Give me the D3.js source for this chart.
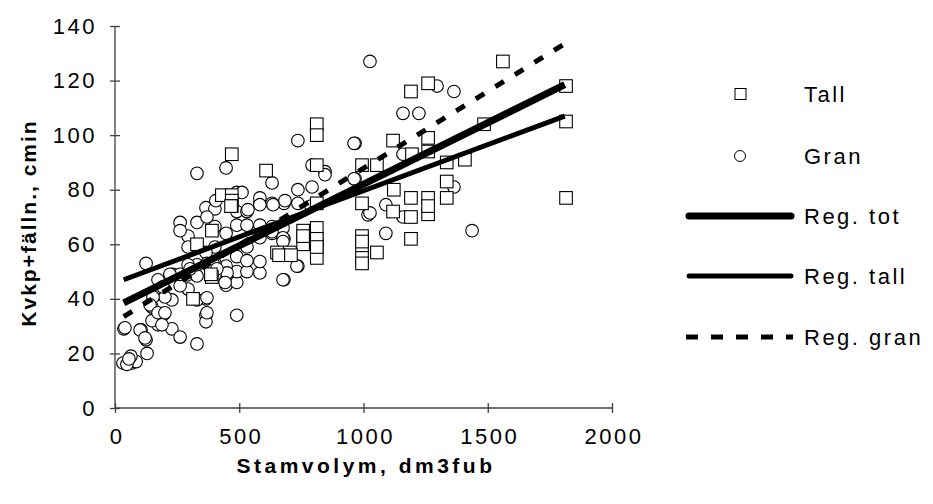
<!DOCTYPE html>
<meta charset="utf-8">
<body style="margin:0;background:#fff">
<style>
text { font-family: Arial, "Liberation Sans", sans-serif; fill: #000; }
.axis path, .axis line { stroke: #404040; stroke-width: 1.3px; }
.tick text { font-size: 22px; letter-spacing: 2.5px; }
.title { font-size: 21px; font-weight: bold; letter-spacing: 3.5px; }
.ytitle { letter-spacing: 2px; }
.leg { font-size: 22px; letter-spacing: 2.5px; }
</style>
<script src="https://cdn.jsdelivr.net/npm/d3@7"></script>
<script>

// Tall (squares) : stamvolym dm3fub, tid cmin
var tall = [
  [1561,127],[1260,119],[1191,116],[1815,118],[1815,105],[1815,77],[1485,104],
  [1119,98],[1260,99],[1260,94],[1195,93],[994,89],[1054,89],[1335,90],[1408,91],
  [1335,83],[1122,80],[994,75],[1191,77],[1260,77],[1335,77],[994,63],[994,59],
  [994,55],[994,53],[1054,57],[1191,62],[1191,70],[1260,71],[1260,74],[1119,72],
  [652,57],[704,57],[757,60],[812,60],[812,55],[608,87],[812,75],[812,66],[812,62],
  [757,65],[994,61],[812,104],[812,100],[470,93],[430,78],[470,78],[470,76],
  [812,89],[470,74],[390,65],[330,60],[390,48],[314,40],[386,49],[660,56],
  [708,56],[757,63],[812,59],[467,74]
];

// Gran (circles)
var gran = [
  [32,16.5],[68,16.5],[85,17],[64,19],[48,16],[129,20],[36,29],[105,28.6],[125,25],
  [229,29],[262,26],[330,23.5],[173,30.5],[198,34.5],[149,32],[366,34],[366,31.6],
  [490,34],[125,53],[173,47],[366,40],[330,39.6],[294,43.6],[229,39.6],[201,40.7],
  [149,37],[262,44.8],[233,49],[262,49],[290,48.8],[330,48.4],[447,45],[447,47],
  [490,46],[490,50],[531,50],[583,49.5],[680,47],[736,52],[294,63],[294,59],[262,68],
  [262,65],[330,68],[366,73.4],[402,73],[402,66.5],[447,64],[490,67],[531,67],
  [490,72],[531,72],[583,75],[632,75],[680,75],[736,75],[789,74],[583,64],[632,66.5],
  [680,62],[632,64],[531,59],[490,55.5],[531,54],[583,53.7],[402,59],[366,57],
  [447,52],[402,53],[330,52.5],[370,53],[294,52.5],[330,86],[447,88],[490,79],
  [406,76],[370,70],[736,98],[966,97],[793,89],[845,86.6],[845,85.5],[966,84],
  [632,82.5],[736,80],[793,81],[511,79],[583,77],[684,76],[535,72.7],[583,74.5],
  [636,74.5],[583,67],[676,66],[632,64.6],[676,62.4],[583,62.4],[1018,70.8],
  [676,47],[732,52],[676,61],[1026,127],[1296,118],[1364,116],[1159,108],[1223,108],
  [962,97],[1159,93],[962,84],[1364,81],[1026,71.5],[1090,74.5],[1159,70],[1090,64],
  [1437,65],[221,49],[302,51],[193,44.4],[153,40.7],[141,37.8],[370,40.4],[173,34.9],
  [201,34.9],[189,30.5],[40,29.4],[101,28.6],[121,25.7],[370,34.9],[394,53],
  [451,49.5],[443,46],[410,51],[56,18]
];

// regression lines (end points)
var regTot  = [[35, 38.5], [1810, 118.5]];
var regTall = [[35, 47],   [1810, 107]];
var regGran = [[35, 33.5], [1810, 133.5]];

var xTicks = [0, 500, 1000, 1500, 2000];
var yTicks = [0, 20, 40, 60, 80, 100, 120, 140];
var legendLabels = ["Tall", "Gran", "Reg. tot", "Reg.  tall", "Reg. gran"];

var svg = d3.select("body").append("svg")
    .attr("width", 933)
    .attr("height", 504);

var x = d3.scaleLinear().domain([0, 2000]).range([115, 612]);
var y = d3.scaleLinear().domain([0, 140]).range([408, 26]);

var xAxis = svg.append("g")
    .attr("class", "axis")
    .attr("transform", "translate(0,408)")
    .call(d3.axisBottom(x).tickValues(xTicks).tickFormat(d3.format("d"))
      .tickSize(5).tickSizeOuter(0).tickPadding(15));
xAxis.selectAll(".tick line").attr("y1", -5);
xAxis.select("path").attr("d", "M115,0H612");
xAxis.selectAll(".tick text").attr("dx", "1.5px");

var yAxis = svg.append("g")
    .attr("class", "axis")
    .attr("transform", "translate(115,0)")
    .call(d3.axisLeft(y).tickValues(yTicks).tickSize(5).tickSizeOuter(0).tickPadding(13));
yAxis.selectAll(".tick line").attr("x1", 5);
yAxis.select("path").attr("d", "M0,26V408");

svg.append("text")
    .attr("class", "title")
    .attr("x", 366).attr("y", 473)
    .attr("text-anchor", "middle")
    .text("Stamvolym, dm3fub");

svg.append("text")
    .attr("class", "title ytitle")
    .attr("transform", "translate(36,223) rotate(-90)")
    .attr("text-anchor", "middle")
    .text("Kvkp+fälln., cmin");

// markers
svg.append("g").selectAll("circle")
    .data(gran)
  .enter().append("circle")
    .attr("cx", function(d) { return x(d[0]); })
    .attr("cy", function(d) { return y(d[1]); })
    .attr("r", 6.3)
    .style("fill", "#fff")
    .style("stroke", "#000")
    .style("stroke-width", 1.1);

svg.append("g").selectAll("rect")
    .data(tall)
  .enter().append("rect")
    .attr("x", function(d) { return x(d[0]) - 6.3; })
    .attr("y", function(d) { return y(d[1]) - 6.3; })
    .attr("width", 12.6)
    .attr("height", 12.6)
    .style("fill", "#fff")
    .style("stroke", "#000")
    .style("stroke-width", 1.1);

var line = d3.line()
    .x(function(d) { return x(d[0]); })
    .y(function(d) { return y(d[1]); });

svg.append("path").datum(regGran).attr("d", line)
    .style("fill", "none").style("stroke", "#000").style("stroke-width", 5)
    .style("stroke-dasharray", "10,13");
svg.append("path").datum(regTall).attr("d", line)
    .style("fill", "none").style("stroke", "#000").style("stroke-width", 5);
svg.append("path").datum(regTot).attr("d", line)
    .style("fill", "none").style("stroke", "#000").style("stroke-width", 7);

// legend
var legY = [94, 156, 216, 276, 337];
var leg = svg.append("g");
leg.append("rect").attr("x", 735).attr("y", legY[0] - 5.5).attr("width", 11).attr("height", 11)
    .style("fill", "#fff").style("stroke", "#000").style("stroke-width", 1);
leg.append("circle").attr("cx", 740).attr("cy", legY[1]).attr("r", 5.5)
    .style("fill", "#fff").style("stroke", "#000").style("stroke-width", 1);
leg.append("line").attr("x1", 689).attr("x2", 791).attr("y1", legY[2]).attr("y2", legY[2])
    .style("stroke", "#000").style("stroke-width", 7).style("stroke-linecap", "round");
leg.append("line").attr("x1", 689).attr("x2", 791).attr("y1", legY[3]).attr("y2", legY[3])
    .style("stroke", "#000").style("stroke-width", 5).style("stroke-linecap", "round");
leg.append("line").attr("x1", 686).attr("x2", 793).attr("y1", legY[4]).attr("y2", legY[4])
    .style("stroke", "#000").style("stroke-width", 5).style("stroke-dasharray", "12,13");

leg.selectAll("text.leg")
    .data(legendLabels)
  .enter().append("text")
    .attr("class", "leg")
    .attr("x", 804)
    .attr("y", function(d, i) { return legY[i]; })
    .attr("dy", "0.35em")
    .text(function(d) { return d; });

</script>
